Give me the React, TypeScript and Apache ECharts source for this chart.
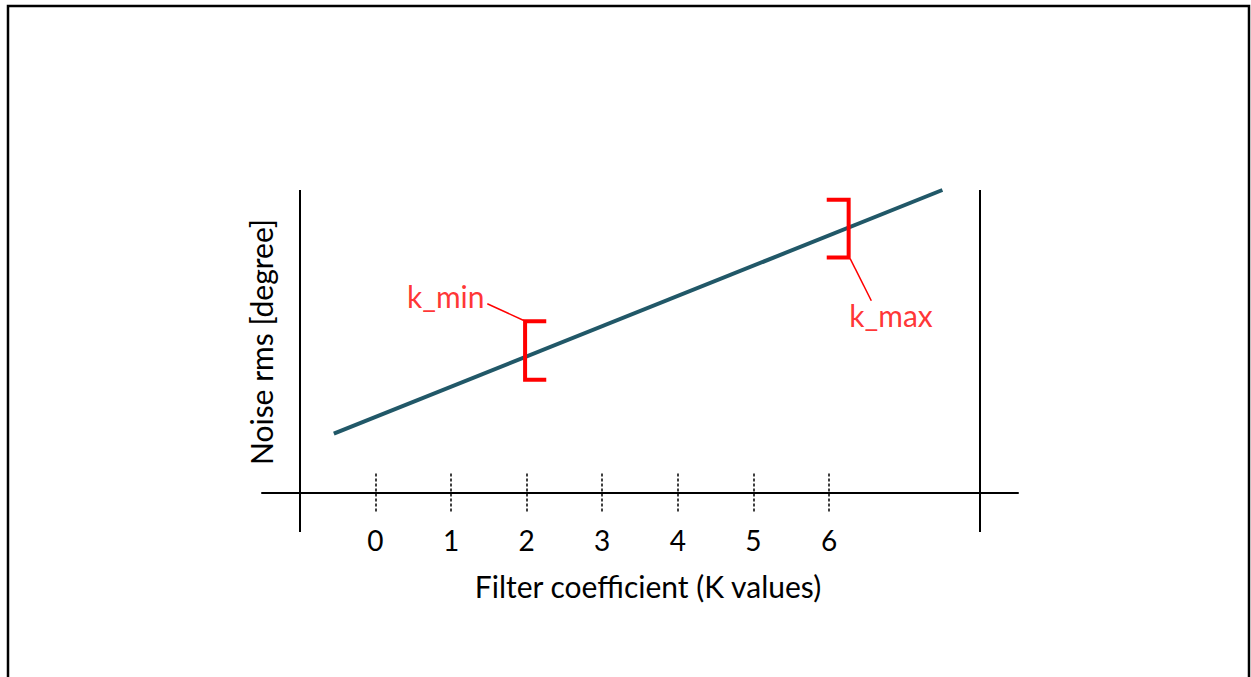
import React, { useEffect, useRef } from "react";
import * as echarts from "echarts";

// ---- data ----
const tickValues = [0, 1, 2, 3, 4, 5, 6];
const noiseLine: [number, number][] = [
  [-0.55, 1.95],
  [7.5, 10.0],
];
const kMinBracket: [number, number][] = [
  [2.26, 5.66],
  [1.98, 5.66],
  [1.98, 3.73],
  [2.26, 3.73],
];
const kMaxBracket: [number, number][] = [
  [5.97, 9.68],
  [6.26, 9.68],
  [6.26, 7.77],
  [5.97, 7.77],
];
const kMinLeader: [number, number][] = [
  [1.97, 5.68],
  [1.48, 6.24],
];
const kMaxLeader: [number, number][] = [
  [6.28, 7.73],
  [6.56, 6.34],
];
const annotationLabels = [
  { name: "k_min", value: [0.93, 6.51] },
  { name: "k_max", value: [6.82, 5.88] },
];
const boundaryLines = [-1, 8];
const tickSpan = [0.63, -0.66];

const FONT = "Lato";

export default function App() {
  const ref = useRef<HTMLDivElement>(null);
  useEffect(() => {
    if (!ref.current) return;
    const chart = echarts.init(ref.current, undefined, { renderer: "svg" });
    chart.setOption({
      animation: false,
      backgroundColor: "#ffffff",
      grid: { left: 262, right: 233, top: 190, bottom: 145, containLabel: false },
      graphic: [
        {
          type: "rect",
          shape: { x: 8, y: 6, width: 1241, height: 700 },
          style: { fill: "none", stroke: "#000", lineWidth: 2.5 },
          silent: true,
        },
      ],
      xAxis: {
        type: "value",
        min: -1.5,
        max: 8.5,
        name: "Filter coefficient (K values)",
        nameLocation: "middle",
        nameGap: 39,
        nameTextStyle: {
          fontFamily: FONT,
          fontSize: 30,
          color: "#000",
          padding: [0, 0, 0, 16],
        },
        axisLine: { show: true, onZero: true, lineStyle: { color: "#000", width: 2 } },
        axisTick: { show: false },
        splitLine: { show: false },
        axisLabel: {
          customValues: tickValues,
          margin: -6,
          fontFamily: FONT,
          fontSize: 28,
          color: "#000",
        },
      },
      yAxis: {
        type: "value",
        min: -1.3,
        max: 10,
        name: "Noise rms [degree]",
        nameLocation: "middle",
        nameRotate: 90,
        nameGap: -14,
        nameTextStyle: {
          fontFamily: FONT,
          fontSize: 30,
          color: "#000",
          padding: [0, 0, 0, 38],
        },
        axisLine: { show: false, onZero: false },
        axisTick: { show: false },
        axisLabel: { show: false },
        splitLine: { show: false },
      },
      series: [
        {
          type: "line",
          data: noiseLine,
          symbol: "none",
          lineStyle: { color: "#215868", width: 4 },
          silent: true,
          markLine: {
            silent: true,
            symbol: "none",
            label: { show: false },
            lineStyle: { color: "#000", width: 2, type: "solid" },
            data: boundaryLines.map((v) => ({ xAxis: v })),
          },
          z: 3,
        },
        {
          type: "line",
          data: [],
          silent: true,
          markLine: {
            silent: true,
            symbol: "none",
            label: { show: false },
            lineStyle: { color: "#000", width: 1.5, type: [3, 2] },
            data: tickValues.map((t) => [
              { coord: [t, tickSpan[0]] },
              { coord: [t, tickSpan[1]] },
            ]),
          },
        },
        {
          type: "line",
          data: kMinBracket,
          symbol: "none",
          lineStyle: { color: "#ff0000", width: 4, join: "miter" },
          silent: true,
          z: 4,
        },
        {
          type: "line",
          data: kMaxBracket,
          symbol: "none",
          lineStyle: { color: "#ff0000", width: 4, join: "miter" },
          silent: true,
          z: 4,
        },
        {
          type: "line",
          data: kMinLeader,
          symbol: "none",
          lineStyle: { color: "#ff0000", width: 1.5 },
          silent: true,
        },
        {
          type: "line",
          data: kMaxLeader,
          symbol: "none",
          lineStyle: { color: "#ff0000", width: 1.5 },
          silent: true,
        },
        {
          type: "scatter",
          data: annotationLabels,
          symbolSize: 0,
          silent: true,
          label: {
            show: true,
            position: "inside",
            formatter: "{b}",
            fontFamily: FONT,
            fontSize: 30,
            color: "#ff0000",
          },
        },
      ],
    });
    return () => chart.dispose();
  }, []);
  return (
    <div
      ref={ref}
      style={{ position: "fixed", left: 0, top: 0, width: 1251, height: 677 }}
    />
  );
}
